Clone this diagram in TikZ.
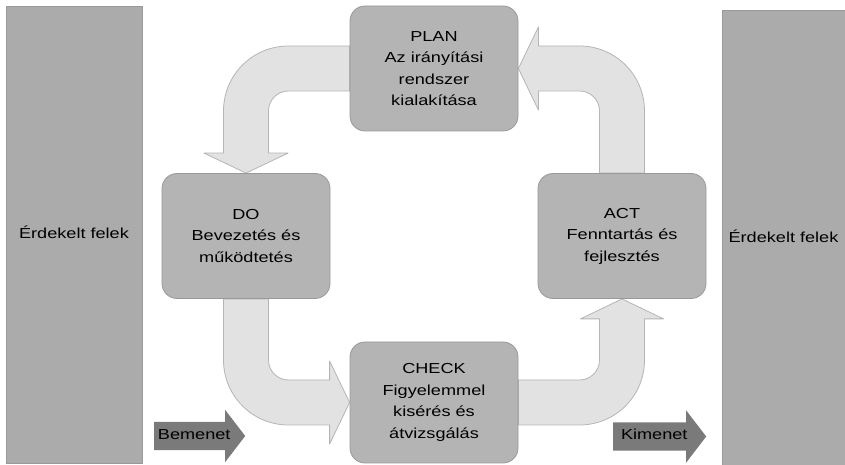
\documentclass[tikz,border=0pt]{standalone}
\usepackage{fontspec}
\setmainfont{Liberation Sans}[FakeStretch=1.25]
\usetikzlibrary{calc}
\usetikzlibrary{shapes.arrows}
\usetikzlibrary{backgrounds}

\definecolor{sidegray}{HTML}{ABABAB}
\definecolor{boxgray}{HTML}{B4B4B4}
\definecolor{boxline}{HTML}{999999}
\definecolor{bandfill}{HTML}{E2E2E2}
\definecolor{bandline}{HTML}{B5B5B5}
\definecolor{iogray}{HTML}{7A7A7A}

\begin{document}
\begin{tikzpicture}[x=1pt, y=1pt,
    txt/.style={font=\fontsize{14.5}{21.5}\selectfont, align=center, text=black},
    sidebar/.style={txt, draw=boxline, fill=sidegray, line width=0.6pt},
    phase/.style={txt, draw=boxline, fill=boxgray, line width=0.8pt, rounded corners=15pt,
        minimum width=168pt, minimum height=125pt, inner sep=0pt},
    band/.style={fill=bandfill, draw=bandline, line width=0.8pt, line join=round},
    ioarrow/.style={txt, single arrow, fill=iogray, draw=none, minimum height=91pt,
        single arrow head extend=12pt, single arrow tip angle=105, text height=10pt,
        text depth=3pt, inner ysep=7.5pt, inner xsep=3pt}]
    \useasboundingbox (0,0) rectangle (845,465);

    % Stakeholders on both sides
    \node[sidebar, minimum width=136pt, minimum height=457pt] (left) at (74,230.5) {\raisebox{5pt}{Érdekelt felek}};
    \node[sidebar, minimum width=123pt, minimum height=455pt] (right) at (783.5,227.5) {\raisebox{2pt}{Érdekelt felek}};

    % The four phases
    \node[phase] (plan) at (434,396.5) {PLAN\\Az irányítási\\rendszer\\kialakítása};
    \node[phase] (do) at (246,229) {DO\\Bevezetés és\\működtetés};
    \node[phase] (act) at (622,229) {ACT\\Fenntartás és\\fejlesztés};
    \node[phase, minimum height=121pt] (check) at (434,62.5) {CHECK\\Figyelemmel\\kisérés és\\átvizsgálás};

    % Bent arrows of the cycle (behind the boxes)
    \begin{scope}[on background layer]
        % PLAN -> DO
        \coordinate (c1) at (do.north |- plan.west);
        \draw[band] ($(plan.west)+(0,22.5)$) -- ($(c1)+(42.5,22.5)$)
            to[out=180,in=90] ($(c1)+(-22.5,-42.5)$) -- ($(do.north)+(-22.5,20)$)
            -- ($(do.north)+(-42,20)$) -- (do.north) -- ($(do.north)+(42,20)$)
            -- ($(do.north)+(22.5,20)$) -- ($(c1)+(22.5,-42.5)$)
            to[out=90,in=180] ($(c1)+(42.5,-22.5)$) -- ($(plan.west)+(0,-22.5)$) -- cycle;

        % DO -> CHECK
        \coordinate (c2) at (do.south |- check.west);
        \draw[band] ($(do.south)+(-22.5,0)$) -- ($(c2)+(-22.5,42.5)$)
            to[out=-90,in=180] ($(c2)+(42.5,-22.5)$) -- ($(check.west)+(-20,-22.5)$)
            -- ($(check.west)+(-20,-41.5)$) -- (check.west) -- ($(check.west)+(-20,41.5)$)
            -- ($(check.west)+(-20,22.5)$) -- ($(c2)+(42.5,22.5)$)
            to[out=180,in=-90] ($(c2)+(22.5,42.5)$) -- ($(do.south)+(22.5,0)$) -- cycle;

        % CHECK -> ACT
        \coordinate (c3) at (act.south |- check.east);
        \draw[band] ($(check.east)+(0,22.5)$) -- ($(c3)+(-42.5,22.5)$)
            to[out=0,in=-90] ($(c3)+(-22.5,42.5)$) -- ($(act.south)+(-22.5,-20)$)
            -- ($(act.south)+(-41.5,-20)$) -- (act.south) -- ($(act.south)+(41.5,-20)$)
            -- ($(act.south)+(22.5,-20)$) -- ($(c3)+(22.5,42.5)$)
            to[out=-90,in=0] ($(c3)+(-42.5,-22.5)$) -- ($(check.east)+(0,-22.5)$) -- cycle;

        % ACT -> PLAN
        \coordinate (c4) at (act.north |- plan.east);
        \draw[band] ($(act.north)+(-22.5,0)$) -- ($(c4)+(-22.5,-42.5)$)
            to[out=90,in=0] ($(c4)+(-42.5,-22.5)$) -- ($(plan.east)+(20,-22.5)$)
            -- ($(plan.east)+(20,-41.5)$) -- (plan.east) -- ($(plan.east)+(20,41.5)$)
            -- ($(plan.east)+(20,22.5)$) -- ($(c4)+(-42.5,22.5)$)
            to[out=0,in=90] ($(c4)+(22.5,-42.5)$) -- ($(act.north)+(22.5,0)$) -- cycle;
    \end{scope}

    % Input and output
    \node[ioarrow, anchor=tail] (bemenet) at (154,29) {Bemenet};
    \node[ioarrow, anchor=tail, minimum height=93pt] (kimenet) at (613,28.5) {Kimenet};
\end{tikzpicture}
\end{document}
